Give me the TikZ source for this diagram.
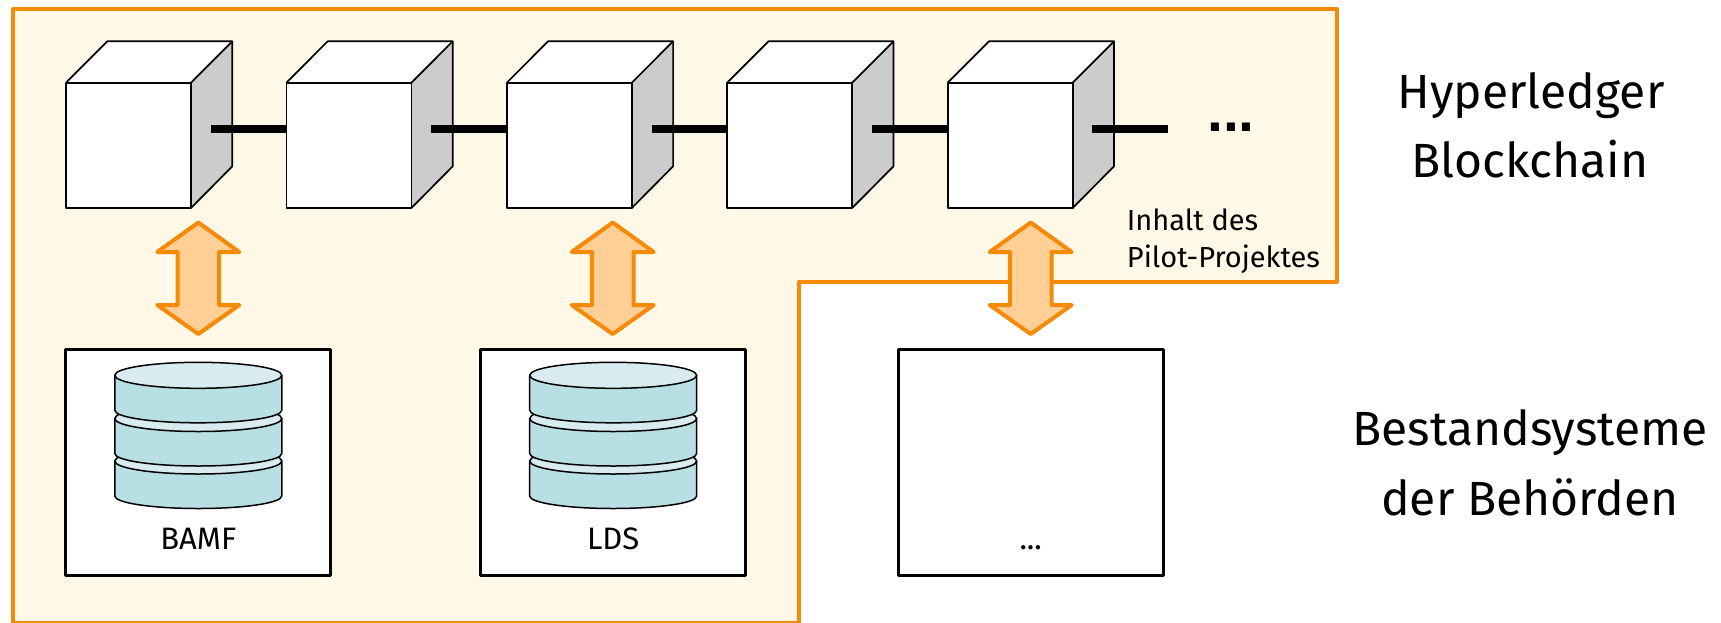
\documentclass[tikz,border=0pt]{standalone}
\usepackage{fontspec}
\setmainfont{Fira Sans}
\newfontfamily\squaredots{Liberation Sans}
\definecolor{orng}{HTML}{F58A07}
\definecolor{pale}{HTML}{FFF8E6}
\definecolor{arrowfill}{HTML}{FFCF96}
\definecolor{sidegrey}{HTML}{CCCCCC}
\definecolor{dbtop}{HTML}{D8ECEF}
\definecolor{dbbody}{HTML}{B8DFE3}
\tikzset{
  frameline/.style={draw=orng,line width=4pt,fill=pale,line join=round},
  cubeline/.style={draw=black,line width=1.7pt,line join=round},
  linkbar/.style={draw=black,line width=8pt},
  dbline/.style={draw=black,line width=1.5pt,line join=round},
  sysbox/.style={draw=black,line width=3pt,fill=white,line join=round,minimum width=265pt,minimum height=226pt,inner sep=0pt},
  biarrow/.style={draw=orng,fill=arrowfill,line width=4pt,line join=round},
  label/.style={inner sep=0pt,anchor=base},
  smalltxt/.style={font=\fontsize{29}{34}\selectfont},
  boxtxt/.style={font=\fontsize{31}{34}\selectfont},
  bigtxt/.style={font=\fontsize{48}{56}\selectfont},
}
\newcommand{\cubeat}[2]{%
  \coordinate (#2) at (#1,82.7);
  \fill[white] (#1,82.7) -- ++(41.3,-41.4) -- ++(125,0) -- ++(-41.3,41.4) -- cycle;
  \fill[sidegrey] (#1+125,82.7) -- ++(41.3,-41.4) -- ++(0,125) -- ++(-41.3,41.7) -- cycle;
  \fill[white] (#1,82.7) rectangle (#1+125,208);
  \draw[cubeline] (#1,82.7) rectangle (#1+125,208);
  \draw[cubeline] (#1,82.7) -- ++(41.3,-41.4) -- ++(125,0) -- ++(0,125) -- (#1+125,208);
  \draw[cubeline] (#1+125,82.7) -- ++(41.3,-41.4);
}
\newcommand{\barrow}[2]{%
  \path[biarrow] (#1,222.5) -- (#1+41,252) -- (#1+20.8,252) -- (#1+20.8,305) -- (#1+41,305)
    -- (#1,334) -- (#1-41,305) -- (#1-20.8,305) -- (#1-20.8,252) -- (#1-41,252) -- cycle;
}
\newcommand{\cyl}[2]{%
  \path[dbline,fill=dbbody] (#1-83.5,#2) -- (#1-83.5,#2+35) arc[start angle=180,end angle=0,x radius=83.5,y radius=12.5] -- (#1+83.5,#2) -- cycle;
  \path[dbline,fill=dbtop] (#1,#2) ellipse[x radius=83.5,y radius=13];
}
\newcommand{\dbstack}[1]{%
  \cyl{#1}{461}
  \cyl{#1}{418.5}
  \cyl{#1}{375.3}
}
\begin{document}
\begin{tikzpicture}[x=1pt,y=-1pt]
\useasboundingbox (0,0) rectangle (1721,622);
\path[frameline] (12.5,9) -- (1336.7,9) -- (1336.7,282) -- (799,282) -- (799,623) -- (12.5,623) -- cycle;
\cubeat{66}{c1}
\cubeat{286.4}{c2}
\cubeat{506.8}{c3}
\cubeat{727.2}{c4}
\cubeat{947.7}{c5}
\foreach \a/\b in {211/c2,431.4/c3,651.8/c4,872.2/c5}{
  \draw[linkbar] (\a,128.7) -- (\b |- 0,128.7);
}
\coordinate (chainend) at (1168,128.7);
\coordinate (chainstart) at (1092.3,128.7);
\draw[linkbar] (chainstart) -- (chainend);
\node[label,font=\squaredots\bfseries\fontsize{57}{60}\selectfont] (more) at (1231,131) {...};
\barrow{198.3}{a1}
\barrow{612.7}{a2}
\barrow{1030.7}{a3}
\node[sysbox] (bamf) at (198.3,462) {};
\node[sysbox] (lds) at (613.2,462) {};
\node[sysbox] (other) at (1030.7,462) {};
\dbstack{198.3}
\dbstack{613.2}
\node[label,boxtxt] (t1) at (198.3,549.3) {BAMF};
\node[label,boxtxt] (t2) at (613.2,549.3) {LDS};
\node[label,boxtxt] (t3) at (1030.7,549.3) {...};
\node[label,anchor=base west,smalltxt] (p1) at (1126.7,230) {Inhalt des};
\node[label,anchor=base west,smalltxt] (p2) at (1126.7,267.7) {Pilot-Projektes};
\node[label,bigtxt] (h1) at (1531,108.5) {Hyperledger};
\node[label,bigtxt] (h2) at (1530,177.5) {Blockchain};
\node[label,bigtxt] (b1) at (1530,445.5) {Bestandsysteme};
\node[label,bigtxt] (b2) at (1530,515) {der Behörden};
\end{tikzpicture}
\end{document}
